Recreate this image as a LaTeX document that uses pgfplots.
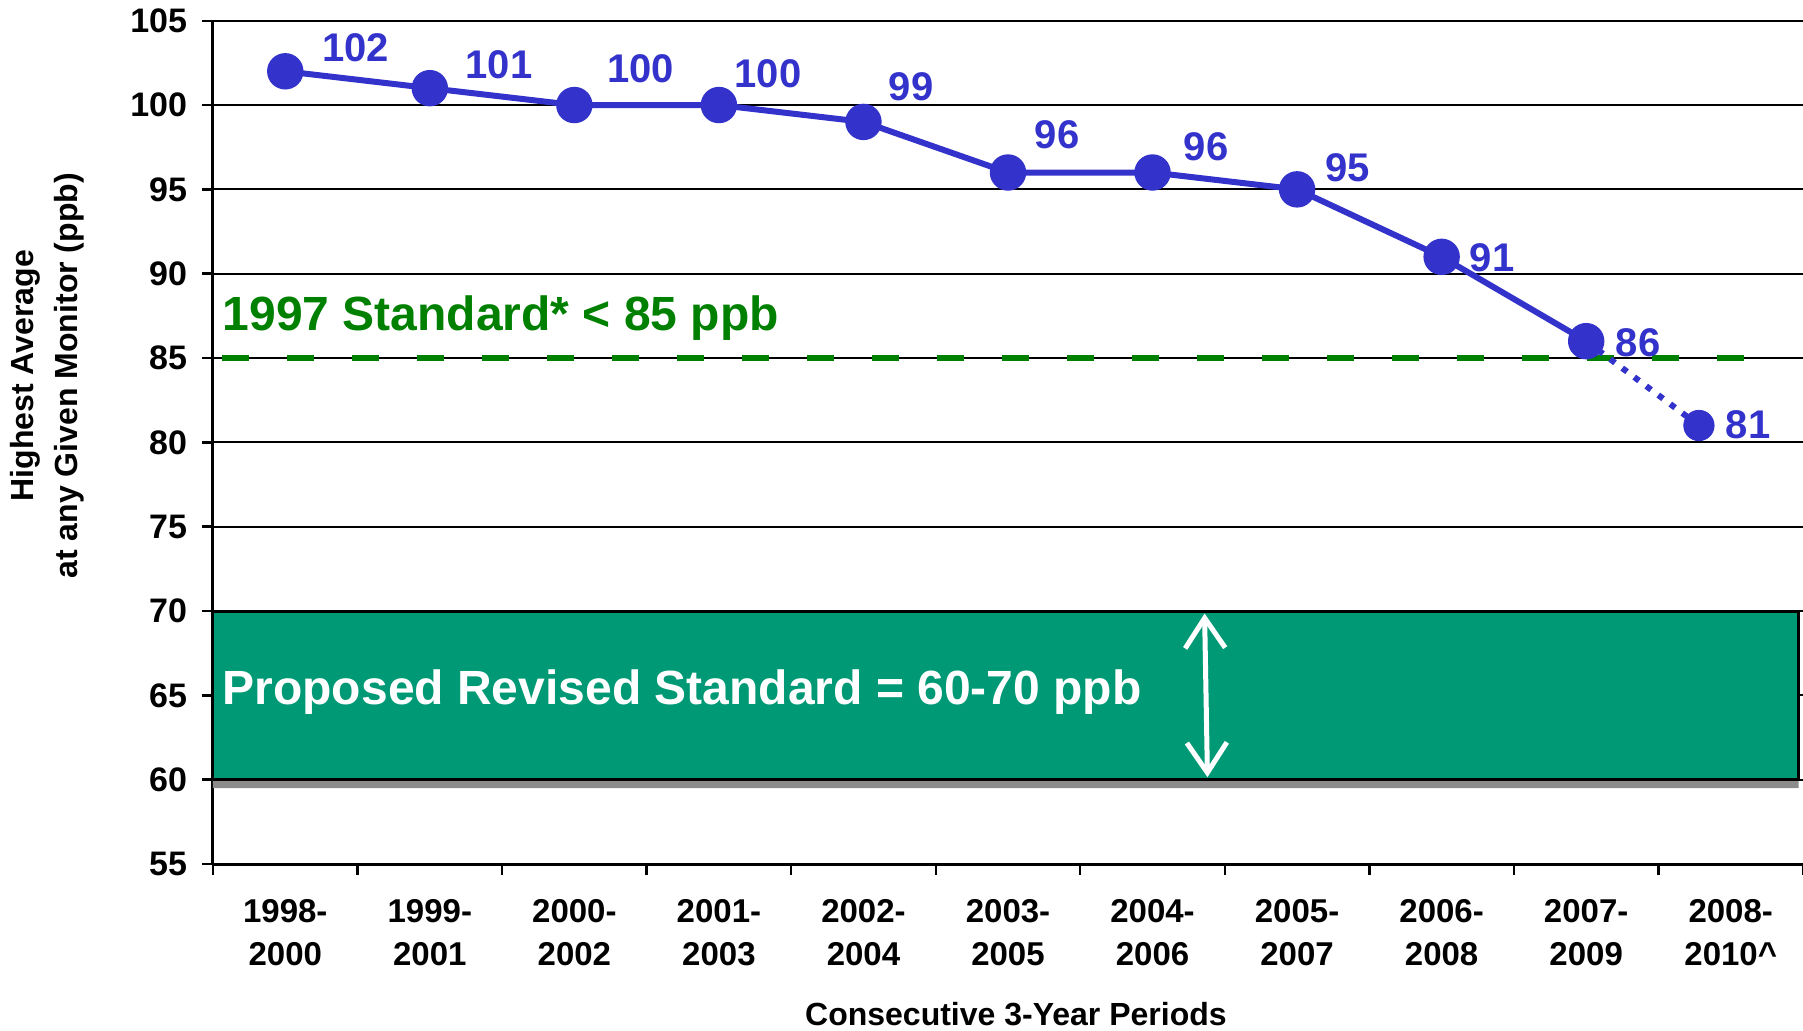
\documentclass[border=0pt]{standalone}
\usepackage{pgfplots}
\pgfplotsset{compat=1.18}
\usepackage{fontspec}
\setmainfont{Liberation Sans}
\usetikzlibrary{arrows.meta}
\definecolor{ptblue}{RGB}{51,51,204}
\definecolor{stdgreen}{RGB}{0,128,0}
\definecolor{bandgreen}{RGB}{0,153,117}
\begin{document}
\begin{tikzpicture}
\useasboundingbox (-106.5pt,-83pt) rectangle (795pt,432pt);
\begin{axis}[
  at={(0,0)}, anchor=south west,
  scale only axis, width=795pt, height=421.65pt,
  xmin=-0.5, xmax=10.5, ymin=55, ymax=105,
  clip=false,
  axis x line*=bottom, axis y line*=left,
  axis line style={line width=1.5pt, -},
  ytick={55,60,65,70,75,80,85,90,95,100,105},
  xtick={-0.5,0.5,1.5,2.5,3.5,4.5,5.5,6.5,7.5,8.5,9.5,10.5},
  x tick label as interval,
  xticklabels={{1998-\\2000},{1999-\\2001},{2000-\\2002},{2001-\\2003},{2002-\\2004},{2003-\\2005},{2004-\\2006},{2005-\\2007},{2006-\\2008},{2007-\\2009},{2008-\\2010\textasciicircum}},
  tick align=outside,
  major tick length=5.3pt,
  tick style={black, line width=1.2pt},
  ymajorgrids,
  grid style={black, line width=1pt},
  /pgf/number format/assume math mode=true,
  yticklabel style={font=\fontsize{17}{20}\selectfont\bfseries, inner sep=0pt, xshift=-7.5pt},
  xticklabel style={font=\fontsize{16.5}{21.7}\selectfont\bfseries, align=center, inner sep=0pt, yshift=-12pt},
  xlabel={Consecutive 3-Year Periods},
  xlabel style={font=\fontsize{16}{20}\selectfont\bfseries, inner sep=0pt, at={(axis description cs:0.505,0)}, anchor=base, yshift=-80.5pt},
  ylabel={Highest Average\\at any Given Monitor (ppb)},
  ylabel style={font=\fontsize{16}{22}\selectfont\bfseries, align=center, inner sep=0pt, at={(axis description cs:-0.1044,0.579)}, anchor=center},
]
% gray strip under proposed band
\addplot[draw=none, fill=black!45] coordinates {(-0.5,59.5) (10.47,59.5) (10.47,60) (-0.5,60) (-0.5,59.5)};
% proposed standard band
\addplot[draw=black, line width=1.5pt, fill=bandgreen] coordinates {(-0.5,60) (10.47,60) (10.47,70) (-0.5,70) (-0.5,60)};
% 1997 standard dashed line
\addplot[stdgreen, line width=2.8pt, dash pattern=on 13.5pt off 19pt] coordinates {(-0.44,85) (10.15,85)};
% projected (dotted) segment
\addplot[ptblue, line width=3pt, dash pattern=on 3pt off 4.5pt] coordinates {(9,86) (9.78,81)};
% observed values
\addplot[ptblue, line width=3pt, mark=*, mark size=7.6pt, mark options={solid, fill=ptblue, draw=ptblue}] coordinates {
(0,102) (1,101) (2,100) (3,100) (4,99) (5,96) (6,96) (7,95) (8,91) (9,86)};
\addplot[only marks, mark=*, mark size=7.6pt, mark options={fill=ptblue, draw=ptblue}] coordinates {(9.78,81)};
% white double arrow
\draw[white, line width=2.5pt, {Straight Barb[length=15pt,width=20pt,line width=2.5pt]}-{Straight Barb[length=15pt,width=20pt,line width=2.5pt]}] (axis cs:6.36,69.85) -- (axis cs:6.38,60.15);
% texts
\node[anchor=base west, inner sep=0pt, text=stdgreen, font=\fontsize{24}{28}\selectfont\bfseries] at (axis cs:-0.436,86.66) {1997 Standard* < 85 ppb};
\node[anchor=base west, inner sep=0pt, text=white, font=\fontsize{24}{28}\selectfont\bfseries] at (axis cs:-0.436,64.43) {Proposed Revised Standard = 60-70 ppb};
\begin{scope}[every node/.style={text=ptblue, font=\fontsize{20}{24}\selectfont\bfseries, inner sep=0pt}]
\node at (axis cs:0.486,103.4) {102};
\node at (axis cs:1.479,102.41) {101};
\node at (axis cs:2.457,102.14) {100};
\node at (axis cs:3.34,101.86) {100};
\node at (axis cs:4.33,101.11) {99};
\node at (axis cs:5.34,98.25) {96};
\node at (axis cs:6.37,97.5) {96};
\node at (axis cs:7.35,96.27) {95};
\node at (axis cs:8.35,90.95) {91};
\node at (axis cs:9.36,85.9) {86};
\node at (axis cs:10.12,81.06) {81};
\end{scope}
\end{axis}
\end{tikzpicture}
\end{document}
